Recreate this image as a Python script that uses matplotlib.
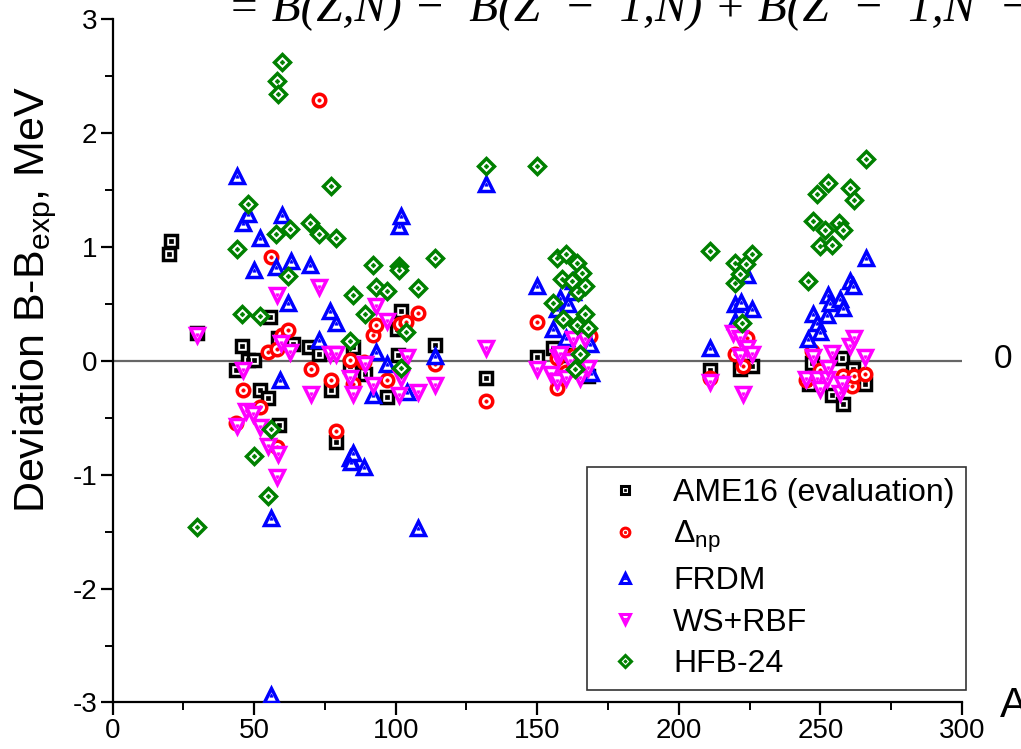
import matplotlib
matplotlib.use('Agg')
import matplotlib.pyplot as plt
from matplotlib.lines import Line2D
from matplotlib.ticker import MultipleLocator
import numpy as np

plt.rcParams['font.family'] = ['Liberation Sans', 'DejaVu Sans']
plt.rcParams['mathtext.default'] = 'regular'
plt.rcParams['axes.unicode_minus'] = False

# AME16 (evaluation)
ame_A = [20.1, 20.8, 29.7, 43.5, 45.8, 48, 50, 52, 55, 55.7, 58.6, 58.7, 63.6, 69.3, 72.8, 77, 78.8,
         84, 85, 89, 97, 100.6, 100.8, 102, 113.8, 131.8, 150, 155.5, 160, 163, 168,
         211, 221.5, 226, 246, 247, 254, 257.6, 258, 261.5, 265.7]
ame_y = [0.94, 1.05, 0.24, -0.08, 0.13, 0.01, 0.01, -0.26, -0.33, 0.38, 0.2, -0.56, 0.15, 0.12, 0.06, -0.26, -0.71,
         -0.05, 0.12, -0.12, -0.32, 0.28, 0.05, 0.44, 0.14, -0.15, 0.03, 0.11, 0.05, 0.0, -0.13,
         -0.08, -0.07, -0.05, -0.2, -0.02, -0.3, 0.02, -0.38, -0.07, -0.2]

# Delta_np
dnp_A = [43.7, 46, 52, 55, 55.8, 58, 58, 60, 62, 70, 72.8, 77, 78.8, 83.7, 85, 88.7, 91.9, 93, 97, 101.4,
         103.8, 107.8, 114, 131.8, 149.8, 157, 157, 160, 163, 168.5,
         211, 219.8, 222.6, 224, 245, 247, 250, 258, 261, 262, 265.7]
dnp_y = [-0.55, -0.26, -0.41, 0.08, 0.91, 0.1, -0.76, 0.23, 0.27, -0.07, 2.29, -0.17, -0.62, 0.01, -0.2, -0.01, 0.23, 0.31, -0.17, 0.32,
         0.34, 0.42, -0.03, -0.35, 0.34, 0.02, -0.24, -0.1, 0.05, 0.22,
         -0.15, 0.06, -0.05, 0.2, -0.17, 0.09, -0.08, -0.13, -0.22, -0.13, -0.12]

# FRDM
frdm_A = [44, 46, 48, 50, 52, 56, 56, 57.8, 59, 60, 61.8, 63, 69.8, 72.8, 76.7, 78.8, 83.7, 84.3, 84.8, 88.7,
          92, 93, 97, 101, 102, 104, 107.8, 113.8, 132, 149.8, 155.5, 157, 158, 160, 161, 162.5, 162.5, 168.5, 169,
          211, 219.8, 219.8, 222, 224, 226, 245.7, 247.5, 248.7, 250, 252.3, 252.7, 253.4, 257, 258, 260.4, 261.5, 266]
frdm_y = [1.62, 1.21, 1.29, 0.8, 1.08, -2.93, -1.38, 0.82, -0.17, 1.28, 0.51, 0.88, 0.84, 0.18, 0.44, 0.33, -0.85, -0.89, -0.81, -0.93,
          -0.3, 0.08, -0.03, 1.18, 1.27, -0.27, -1.47, 0.04, 1.55, 0.66, 0.28, 0.45, 0.55, 0.2, 0.5, 0.6, 0.7, 0.15, -0.11,
          0.11, 0.5, 0.35, 0.52, 0.75, 0.45, 0.19, 0.41, 0.33, 0.25, 0.4, 0.58, 0.51, 0.54, 0.46, 0.7, 0.66, 0.9]

# WS+RBF
ws_A = [29.7, 43.8, 46, 47.3, 49.5, 52, 54.8, 58, 58, 58.6, 59.6, 62.8, 70, 73, 76.7, 79, 83.7, 84.8, 89, 92,
        93, 97, 101, 102, 104, 107.8, 114, 132, 149.8, 155, 157, 157.3, 158, 160.3, 161.5, 162.5, 165, 166.8, 168,
        211, 219, 221.5, 221.5, 222.6, 224, 226, 245, 247.5, 248.7, 250, 252.3, 252.7, 254, 257, 257.6, 260.4, 262, 265.7]
ws_y = [0.23, -0.57, -0.08, -0.44, -0.47, -0.58, -0.75, 0.58, -1.02, -0.82, 0.16, 0.08, -0.29, 0.65, 0.06, 0.06, -0.15, -0.29, -0.03, -0.21,
        0.48, 0.35, -0.3, -0.15, 0.03, -0.27, -0.21, 0.11, -0.07, -0.12, -0.18, 0.03, 0.06, -0.15, 0.0, 0.19, -0.15, 0.19, -0.06,
        -0.19, 0.24, 0.2, 0.04, -0.29, 0.11, 0.06, -0.16, 0.03, -0.16, -0.25, -0.16, -0.06, 0.07, -0.28, -0.2, 0.13, 0.2, 0.03]

# HFB-24
hfb_A = [29.7, 44, 45.8, 48, 49.8, 52, 54.8, 55.8, 57.8, 58, 58.6, 60, 61.8, 62.8, 69.8, 72.8, 77, 78.8, 84, 84.8,
         89, 92, 93, 97, 101, 101, 102, 103.8, 107.8, 114, 132, 149.8, 155.5, 157, 158.7, 159, 160, 162.2, 163.3, 164,
         164, 164.3, 165, 165.7, 166.8, 166.8, 167.8, 211, 219.8, 219.8, 221.5, 222.2, 223.7, 225.8,
         245.6, 247.4, 248.8, 250, 251.6, 252.7, 254, 256.5, 258, 260.4, 261.8, 266]
hfb_y = [-1.46, 0.98, 0.41, 1.38, -0.84, 0.39, -1.19, -0.6, 1.11, 2.46, 2.34, 2.62, 0.74, 1.16, 1.21, 1.11, 1.53, 1.08, 0.17, 0.58,
         0.41, 0.84, 0.65, 0.61, 0.83, 0.8, -0.06, 0.25, 0.64, 0.9, 1.71, 1.71, 0.51, 0.9, 0.72, 0.37, 0.94, 0.7, -0.07, 0.86,
         0.31, 0.6, 0.06, 0.77, 0.66, 0.41, 0.29, 0.96, 0.86, 0.68, 0.76, 0.33, 0.85, 0.94,
         0.7, 1.23, 1.46, 1.01, 1.15, 1.56, 1.02, 1.21, 1.15, 1.52, 1.41, 1.77]

series = [
    (ame_A, ame_y, 's', 'black', 8, 'AME16 (evaluation)'),
    (dnp_A, dnp_y, 'o', 'red', 9, r'$\Delta_{np}$'),
    (frdm_A, frdm_y, '^', 'blue', 10.5, 'FRDM'),
    (ws_A, ws_y, 'v', 'magenta', 10.5, 'WS+RBF'),
    (hfb_A, hfb_y, 'D', 'green', 8.5, 'HFB-24'),
]

fig = plt.figure(figsize=(10.21, 7.49), dpi=100)
ax = fig.add_axes([0.1102, 0.0621, 0.832, 0.9125])

ax.axhline(0, color='#666666', lw=1.6, zorder=1)

handles = []
labels = []
for A, y, m, c, ms, lab in series:
    ax.plot(A, y, ls='none', marker=m, ms=ms, mfc='white', mec=c, mew=2.5, zorder=3)
    ax.plot(A, y, ls='none', marker=m, ms=2.4, mfc=c, mec=c, mew=0.5, zorder=3)
    h1 = Line2D([], [], ls='none', marker=m, ms=ms * 0.7, mfc='white', mec=c, mew=2.2)
    h2 = Line2D([], [], ls='none', marker=m, ms=1.8, mfc=c, mec=c, mew=0.5)
    handles.append((h1, h2))
    labels.append(lab)

ax.set_xlim(0, 300)
ax.set_ylim(-3, 3)
ax.xaxis.set_major_locator(MultipleLocator(50))
ax.xaxis.set_minor_locator(MultipleLocator(25))
ax.yaxis.set_major_locator(MultipleLocator(1))
ax.yaxis.set_minor_locator(MultipleLocator(0.5))
ax.tick_params(which='major', direction='out', length=9, width=1.6, labelsize=20)
ax.tick_params(axis='x', which='major', pad=2)
ax.tick_params(axis='y', which='major', pad=2)
ax.tick_params(which='minor', direction='out', length=6, width=1.4)
for s in ['top', 'right']:
    ax.spines[s].set_visible(False)
for s in ['left', 'bottom']:
    ax.spines[s].set_linewidth(1.6)

ax.set_ylabel(r'Deviation B-B$_{exp}$, MeV', fontsize=31)
ax.yaxis.set_label_coords(-0.063, 0.59)

leg = ax.legend(handles, labels, loc='lower right', bbox_to_anchor=(966 / 1021, 1 - 690 / 749),
                bbox_transform=fig.transFigure, fontsize=23, frameon=True, fancybox=False,
                edgecolor='black', borderaxespad=0, handletextpad=0.65, labelspacing=0.35,
                handlelength=1.7, borderpad=0.35)
leg.get_frame().set_linewidth(1.2)

fig.text(1003 / 1021, 1 - 360 / 749, '0', fontsize=24, ha='center', va='center')
fig.text(1000 / 1021, 1 - 706 / 749, 'A', fontsize=30, ha='left', va='center')
fig.text(228 / 1021, 1 - 21 / 749, '= B(Z,N) \u2212  B(Z  \u2212  1,N) + B(Z  \u2212  1,N  \u2212',
         fontsize=34, family='Liberation Serif', style='italic', ha='left', va='baseline')

fig.savefig('out.png', dpi=100)
